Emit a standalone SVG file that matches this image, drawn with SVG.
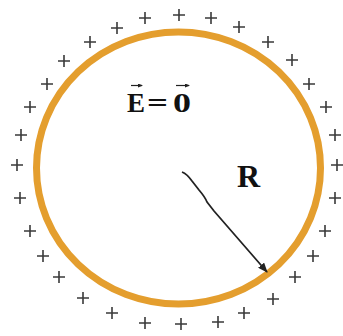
<svg xmlns="http://www.w3.org/2000/svg" xmlns:xlink="http://www.w3.org/1999/xlink" width="343" height="336" viewBox="0 0 343 336">
<style>
.plus{stroke:#3a3a3a;stroke-width:1.6;fill:none}
.lbl{font-family:"Liberation Serif","Times New Roman",serif;font-weight:bold;fill:#111}
.vec{stroke:#222;stroke-width:1.2;fill:none}
</style>
<defs>
<path id="p" class="plus" d="M-6,0H6M0,-6V6"/>
<marker id="ah" markerWidth="10" markerHeight="8" refX="9" refY="4" orient="auto" markerUnits="userSpaceOnUse">
<path d="M0,0L10,4L0,8Z" fill="#222"/>
</marker>
<marker id="va" markerWidth="5" markerHeight="4" refX="4" refY="2" orient="auto" markerUnits="userSpaceOnUse">
<path d="M0,0L5,2L0,4Z" fill="#222"/>
</marker>
</defs>
<rect width="343" height="336" fill="#fff"/>
<g id="sphere">
<ellipse cx="178.5" cy="168" rx="142" ry="136" fill="none" stroke="#E49E2E" stroke-width="7"/>
</g>
<g id="charges">
<use href="#p" x="30" y="107"/><use href="#p" x="47" y="84"/><use href="#p" x="64" y="61"/><use href="#p" x="90" y="42"/><use href="#p" x="117" y="28"/><use href="#p" x="145" y="18"/><use href="#p" x="179" y="15"/><use href="#p" x="211" y="18"/><use href="#p" x="239" y="27"/><use href="#p" x="268" y="42"/><use href="#p" x="292" y="60"/><use href="#p" x="309" y="84"/><use href="#p" x="326" y="107"/>
<use href="#p" x="21" y="135"/><use href="#p" x="17" y="165"/><use href="#p" x="20" y="198"/><use href="#p" x="335" y="135"/><use href="#p" x="337" y="165"/><use href="#p" x="335" y="198"/>
<use href="#p" x="30" y="231"/><use href="#p" x="43" y="256"/><use href="#p" x="59" y="277"/><use href="#p" x="83" y="298"/><use href="#p" x="112" y="313"/><use href="#p" x="145" y="323"/><use href="#p" x="181" y="324"/><use href="#p" x="218" y="322"/><use href="#p" x="244" y="313"/><use href="#p" x="273" y="299"/><use href="#p" x="295" y="277"/><use href="#p" x="313" y="256"/><use href="#p" x="325" y="231"/>
</g>
<g id="connectors">
<path d="M182,172 Q187,174 192,181 L199,190 Q205,197 207,202 L214,211 L267,272" fill="none" stroke="#222" stroke-width="1.8" stroke-linejoin="round" marker-end="url(#ah)"/>
</g>
<g id="label-E">
<text class="lbl" x="127" y="112" font-size="27">E</text>
<text class="lbl" x="147" y="112" font-size="27" textLength="21" lengthAdjust="spacingAndGlyphs">=</text>
<text class="lbl" x="173" y="112" font-size="27" textLength="18" lengthAdjust="spacingAndGlyphs">0</text>
<path class="vec" d="M131,85.5H142" marker-end="url(#va)"/>
<path class="vec" d="M176,85.5H189" marker-end="url(#va)"/>
</g>
<g id="label-R">
<text class="lbl" x="237" y="187" font-size="32">R</text>
</g>
</svg>
